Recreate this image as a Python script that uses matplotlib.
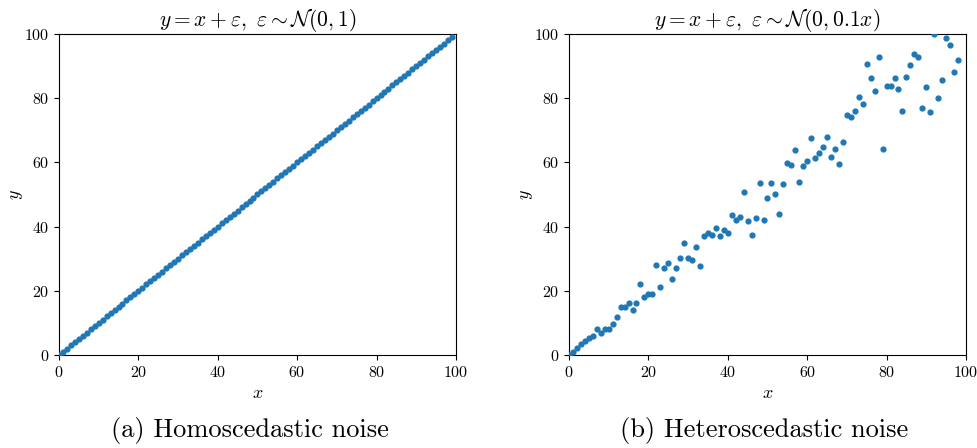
import numpy as np
import matplotlib.pyplot as plt

# LaTeX-like look with the bundled Computer Modern fonts
plt.rcParams['font.family'] = 'serif'
plt.rcParams['font.serif'] = ['cmr10']
plt.rcParams['mathtext.fontset'] = 'cm'
plt.rcParams['axes.formatter.use_mathtext'] = True

# x positions, same for both panels
x_vals = [0, 1, 2, 3, 4, 5, 6, 7, 8, 9, 10, 11, 12, 13, 14, 15, 16, 17, 18, 19,
          20, 21, 22, 23, 24, 25, 26, 27, 28, 29, 30, 31, 32, 33, 34, 35, 36, 37, 38, 39,
          40, 41, 42, 43, 44, 45, 46, 47, 48, 49, 50, 51, 52, 53, 54, 55, 56, 57, 58, 59,
          60, 61, 62, 63, 64, 65, 66, 67, 68, 69, 70, 71, 72, 73, 74, 75, 76, 77, 78, 79,
          80, 81, 82, 83, 84, 85, 86, 87, 88, 89, 90, 91, 92, 93, 94, 95, 96, 97, 98, 99]

# (a) homoscedastic: points sit on the line
y_homo = [0, 1, 2, 3, 4, 5, 6, 7, 8, 9, 10, 11, 12, 13, 14, 15, 16, 17, 18, 19,
          20, 21, 22, 23, 24, 25, 26, 27, 28, 29, 30, 31, 32, 33, 34, 35, 36, 37, 38, 39,
          40, 41, 42, 43, 44, 45, 46, 47, 48, 49, 50, 51, 52, 53, 54, 55, 56, 57, 58, 59,
          60, 61, 62, 63, 64, 65, 66, 67, 68, 69, 70, 71, 72, 73, 74, 75, 76, 77, 78, 79,
          80, 81, 82, 83, 84, 85, 86, 87, 88, 89, 90, 91, 92, 93, 94, 95, 96, 97, 98, 99]

# (b) heteroscedastic: values
y_hetero = [0.0, 1.0, 2.2, 3.3, 4.4, 5.2, 5.9, 8.1, 7.0, 8.0,
            8.1, 9.6, 11.8, 14.9, 14.9, 16.1, 13.9, 16.2, 22.0, 18.0,
            19.1, 19.1, 28.0, 21.3, 27.2, 28.6, 23.7, 27.1, 30.3, 34.9,
            30.1, 29.5, 33.6, 27.8, 37.1, 38.1, 37.3, 39.6, 37.2, 38.9,
            37.9, 43.7, 42.2, 43.1, 50.9, 41.7, 37.3, 42.8, 53.7, 42.1,
            49.0, 53.7, 50.2, 43.8, 53.2, 59.7, 59.3, 64.0, 54.0, 58.8,
            60.5, 67.6, 61.4, 62.9, 64.7, 67.8, 61.7, 64.2, 59.4, 66.4,
            74.9, 74.0, 76.0, 80.3, 78.1, 90.7, 86.4, 82.2, 92.9, 64.2,
            83.8, 83.7, 86.2, 82.9, 75.9, 86.5, 90.4, 93.8, 92.8, 76.9,
            83.4, 75.7, 100.0, 80.2, 85.7, 98.7, 96.5, 88.2, 92.0, 104.0]

titles = [r'$y = x + \varepsilon,\ \varepsilon \sim \mathcal{N}(0, 1)$',
          r'$y = x + \varepsilon,\ \varepsilon \sim \mathcal{N}(0, 0.1x)$']
captions = ['(a) Homoscedastic noise', '(b) Heteroscedastic noise']
caption_x = [0.256, 0.781]  # centres of the sub-figure captions

fig = plt.figure(figsize=(9.78, 4.48), dpi=100)
ax1 = fig.add_axes([0.0603, 0.2076, 0.4059, 0.7165])
ax2 = fig.add_axes([0.5818, 0.2076, 0.4059, 0.7165])

for ax, yv, title, cap, cx in zip([ax1, ax2], [y_homo, y_hetero], titles, captions, caption_x):
    ax.scatter(x_vals, yv, s=12, color='#1f77b4', zorder=3)
    ax.set_xlim(0, 100)
    ax.set_ylim(0, 100)
    ax.set_xticks([0, 20, 40, 60, 80, 100])
    ax.set_yticks([0, 20, 40, 60, 80, 100])
    ax.tick_params(labelsize=11.5)
    ax.set_xlabel('$x$', fontsize=13)
    ax.set_ylabel('$y$', fontsize=13, labelpad=-1)
    ax.set_title(title, fontsize=15.5, pad=2)
    fig.text(cx, 0.01, cap, ha='center', va='bottom', fontsize=19)

fig.savefig('out.png', dpi=100)
